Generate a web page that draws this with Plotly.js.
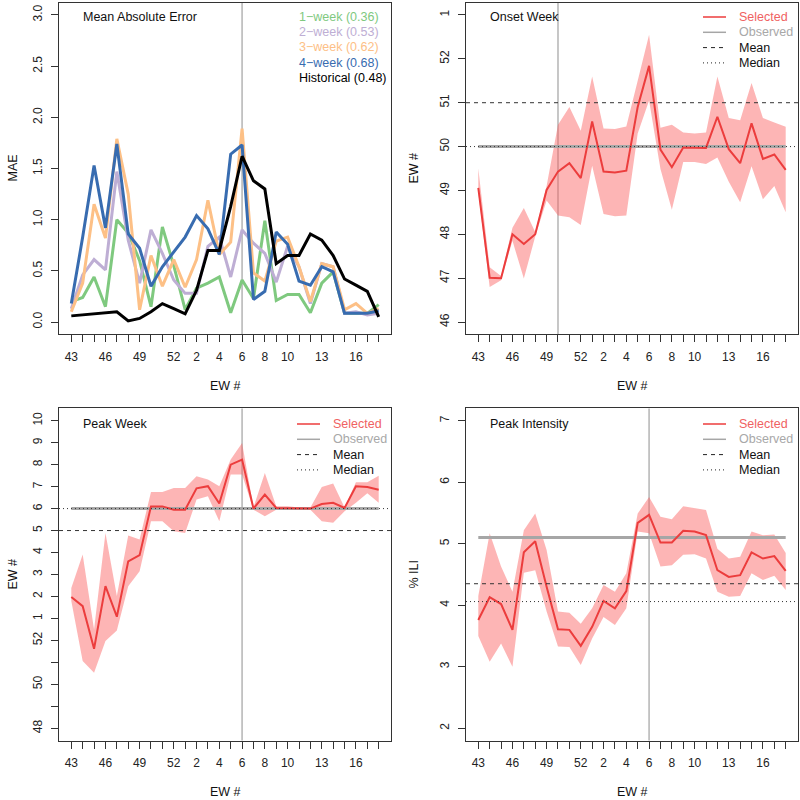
<!DOCTYPE html>
<html>
<head>
<meta charset="utf-8">
<script src="https://cdn.plot.ly/plotly-3.0.1.min.js"></script>
<style>
  html, body { margin: 0; padding: 0; background: #fff; }
  #chart { width: 800px; height: 800px; }
</style>
</head>
<body>
<div id="chart"></div>
<script>
// epidemic weeks of the season, 43..52 then 1..18
const weeks = [43, 44, 45, 46, 47, 48, 49, 50, 51, 52, 1, 2, 3, 4, 5, 6, 7, 8, 9, 10, 11, 12, 13, 14, 15, 16, 17, 18];
const shownWeeks = [43, 46, 49, 52, 2, 4, 6, 8, 10, 13, 16];

// mean absolute error per forecast week
const mae1wk = [0.20, 0.24, 0.44, 0.15, 1.00, 0.87, 0.60, 0.15, 0.93, 0.55, 0.12, 0.33, 0.38, 0.44, 0.09, 0.41, 0.23, 0.99, 0.21, 0.27, 0.27, 0.09, 0.38, 0.49, 0.085, 0.085, 0.085, 0.17];
const mae2wk = [0.13, 0.46, 0.61, 0.51, 1.47, 0.80, 0.38, 0.90, 0.67, 0.41, 0.28, 0.28, 0.74, 0.83, 0.44, 0.90, 0.77, 0.67, 0.39, 0.74, 0.54, 0.18, 0.57, 0.54, 0.085, 0.10, 0.07, 0.085];
const mae3wk = [0.10, 0.38, 1.15, 0.82, 1.79, 1.25, 0.12, 0.65, 0.35, 0.61, 0.34, 0.61, 1.19, 0.66, 0.78, 1.89, 0.48, 0.40, 0.79, 0.83, 0.54, 0.20, 0.57, 0.54, 0.12, 0.18, 0.085, 0.13];
const mae4wk = [0.18, 0.83, 1.53, 0.92, 1.74, 0.86, 0.72, 0.35, 0.54, 0.69, 0.83, 1.04, 0.91, 0.66, 1.64, 1.73, 0.22, 0.30, 0.88, 0.76, 0.40, 0.36, 0.54, 0.49, 0.085, 0.085, 0.085, 0.11];
const maeHist = [0.06, 0.07, 0.075, 0.085, 0.10, 0.01, 0.035, 0.10, 0.18, 0.13, 0.08, 0.31, 0.70, 0.70, 1.13, 1.62, 1.38, 1.30, 0.57, 0.65, 0.65, 0.86, 0.80, 0.65, 0.42, 0.36, 0.30, 0.05];
const maeNames = ['1\u2212week (0.36)', '2\u2212week (0.53)', '3\u2212week (0.62)', '4\u2212week (0.68)', 'Historical (0.48)'];
const maeColors = ['#7fc97f', '#beaed4', '#fdc086', '#386cb0', '#000000'];

// week values on a running scale: 53 = week 1, 54 = week 2 ...
const onsetSel = [49.06, 47.01, 47.0, 48.0, 47.78, 48.0, 49.01, 49.43, 49.62, 49.28, 50.57, 49.43, 49.41, 49.45, 50.9, 51.84, 49.93, 49.53, 49.98, 49.98, 49.97, 50.68, 49.94, 49.62, 50.53, 49.72, 49.82, 49.47];
const onsetHi = [49.5, 47.25, 47.05, 48.15, 48.6, 48.05, 49.1, 50.5, 50.9, 50.36, 51.6, 50.41, 50.4, 50.46, 51.5, 52.55, 50.43, 50.5, 50.32, 50.3, 50.32, 51.6, 50.65, 50.6, 51.45, 50.65, 50.55, 50.45];
const onsetLo = [48.95, 46.8, 46.95, 47.85, 46.99, 47.95, 48.77, 48.43, 48.39, 48.21, 49.56, 48.46, 48.41, 48.43, 50.3, 51.05, 49.49, 48.56, 49.65, 49.65, 49.6, 49.75, 49.2, 48.73, 49.55, 48.8, 49.1, 48.5];
const onsetObs = 50, onsetMean = 51, onsetMedian = 50;
const onsetTickVals = [46, 47, 48, 49, 50, 51, 52, 53];
const onsetTickText = ['46', '47', '48', '49', '50', '51', '52', '1'];

const peakWkSel = [53.98, 53.56, 51.62, 54.47, 53.08, 55.6, 55.88, 58.1, 58.1, 57.95, 57.95, 58.92, 59.02, 58.23, 60.0, 60.23, 58.0, 58.64, 58.03, 58.03, 58.0, 58.0, 58.21, 58.26, 58.03, 59.02, 58.98, 58.86];
const peakWkHi = [54.39, 55.91, 52.5, 56.89, 54.02, 56.77, 56.59, 58.76, 58.76, 58.94, 58.94, 59.47, 59.32, 59.02, 60.23, 60.98, 58.05, 59.62, 58.11, 58.11, 58.05, 58.05, 58.98, 59.14, 58.05, 59.2, 59.2, 59.5];
const peakWkLo = [53.79, 51.06, 50.53, 51.97, 52.45, 54.47, 55.15, 57.42, 57.42, 56.97, 56.89, 58.41, 58.56, 57.42, 59.55, 59.55, 57.95, 57.65, 57.95, 57.95, 57.95, 57.95, 57.42, 57.35, 57.88, 58.26, 58.7, 58.26];
const peakWkObs = 58, peakWkMean = 57, peakWkMedian = 58;
const peakWkTickVals = [48, 49, 50, 51, 52, 53, 54, 55, 56, 57, 58, 59, 60, 61, 62];
const peakWkTickText = ['48', '', '50', '', '52', '1', '2', '3', '4', '5', '6', '7', '8', '9', '10'];

const peakIntSel = [3.76, 4.13, 4.02, 3.60, 4.86, 5.04, 4.30, 3.61, 3.60, 3.34, 3.65, 4.07, 3.95, 4.23, 5.34, 5.47, 5.02, 5.02, 5.21, 5.20, 5.14, 4.57, 4.46, 4.49, 4.86, 4.76, 4.80, 4.56];
const peakIntHi = [4.15, 5.17, 4.63, 4.22, 5.22, 5.49, 4.9, 3.9, 3.88, 3.70, 3.95, 4.33, 4.22, 4.52, 5.49, 5.76, 5.44, 5.40, 5.61, 5.58, 5.55, 4.92, 4.76, 4.79, 5.2, 5.14, 5.15, 4.85];
const peakIntLo = [3.5, 3.08, 3.38, 3.0, 4.53, 4.57, 3.9, 3.33, 3.32, 3.03, 3.46, 3.81, 3.68, 3.95, 5.2, 5.17, 4.63, 4.65, 4.82, 4.83, 4.76, 4.22, 4.14, 4.15, 4.52, 4.41, 4.48, 4.25];
const peakIntObs = 5.10, peakIntMean = 4.35, peakIntMedian = 4.06;
const peakIntTickVals = [2, 3, 4, 5, 6, 7];

const obsOnsetWeek = 50, obsPeakWeek = 6;

const FONT = 'Liberation Sans, Arial, sans-serif';
const RED = '#ec3d3d';
const BAND = 'rgba(250,90,90,0.45)';
const GRAY = '#a6a6a6';

const idx = weeks.map((w, i) => i);
const xText = weeks.map(w => shownWeeks.includes(w) ? String(w) : '');

// panel frames in pixels (800x800 page)
const W = 800, H = 800;
const colL = [59, 391], colR = [466, 798];
const rowT = [2.7, 334.3], rowB = [408.4, 740.6];
const dx = p => [p[0] / W, p[1] / W];
const dy = p => [1 - p[1] / H, 1 - p[0] / H];

function xAxis(col, anchor) {
  return {
    domain: dx(col), anchor: anchor, range: [-1.08, 28.08],
    tickmode: 'array', tickvals: idx, ticktext: xText,
    ticks: 'outside', ticklen: 7, tickcolor: '#333', tickwidth: 1,
    showline: true, mirror: true, linecolor: '#333', linewidth: 1,
    showgrid: false, zeroline: false, ticklabelstandoff: 4,
    tickfont: { family: FONT, size: 12, color: '#222' }
  };
}
function yAxis(row, anchor, range, vals, text) {
  return {
    domain: dy(row), anchor: anchor, range: range,
    tickmode: 'array', tickvals: vals, ticktext: text,
    tickangle: -90, ticklabelstandoff: 4,
    ticks: 'outside', ticklen: 7, tickcolor: '#333', tickwidth: 1,
    showline: true, mirror: true, linecolor: '#333', linewidth: 1,
    showgrid: false, zeroline: false,
    tickfont: { family: FONT, size: 12, color: '#222' }
  };
}

const traces = [];

// MAE panel
[mae1wk, mae2wk, mae3wk, mae4wk, maeHist].forEach((ys, k) => {
  traces.push({ x: idx, y: ys, type: 'scatter', mode: 'lines', xaxis: 'x', yaxis: 'y',
    line: { color: maeColors[k], width: 3 }, hoverinfo: 'skip', showlegend: false });
});

function forecastPanel(sel, lo, hi, obs, xa, ya) {
  traces.push({ x: idx.concat(idx.slice().reverse()), y: hi.concat(lo.slice().reverse()),
    type: 'scatter', mode: 'lines', fill: 'toself', fillcolor: BAND, line: { width: 0 },
    xaxis: xa, yaxis: ya, hoverinfo: 'skip', showlegend: false });
  traces.push({ x: [idx[0], idx[idx.length - 1]], y: [obs, obs], type: 'scatter', mode: 'lines',
    line: { color: GRAY, width: 3 }, xaxis: xa, yaxis: ya, hoverinfo: 'skip', showlegend: false });
  traces.push({ x: idx, y: sel, type: 'scatter', mode: 'lines', line: { color: RED, width: 2 },
    xaxis: xa, yaxis: ya, hoverinfo: 'skip', showlegend: false });
}
forecastPanel(onsetSel, onsetLo, onsetHi, onsetObs, 'x2', 'y2');
forecastPanel(peakWkSel, peakWkLo, peakWkHi, peakWkObs, 'x3', 'y3');
forecastPanel(peakIntSel, peakIntLo, peakIntHi, peakIntObs, 'x4', 'y4');

const shapes = [];
function vline(week, xa, ya) {
  const i = weeks.indexOf(week);
  shapes.push({ type: 'line', layer: 'below', xref: xa, yref: ya + ' domain', x0: i, x1: i, y0: 0, y1: 1,
    line: { color: '#b4b4b4', width: 1.5 } });
}
function hline(v, dash, xa, ya) {
  shapes.push({ type: 'line', layer: 'above', xref: xa + ' domain', yref: ya, x0: 0, x1: 1, y0: v, y1: v,
    line: { color: '#333', width: 1, dash: dash } });
}
vline(obsPeakWeek, 'x', 'y');
vline(obsOnsetWeek, 'x2', 'y2');
vline(obsPeakWeek, 'x3', 'y3');
vline(obsPeakWeek, 'x4', 'y4');
hline(onsetMean, '4px,4px', 'x2', 'y2');
hline(onsetMedian, '1px,3px', 'x2', 'y2');
hline(peakWkMean, '4px,4px', 'x3', 'y3');
hline(peakWkMedian, '1px,3px', 'x3', 'y3');
hline(peakIntMean, '4px,4px', 'x4', 'y4');
hline(peakIntMedian, '1px,3px', 'x4', 'y4');

const annotations = [];
function txt(text, px, py, opts) {
  annotations.push(Object.assign({ text: text, xref: 'paper', yref: 'paper', x: px / W, y: 1 - py / H,
    xanchor: 'left', yanchor: 'middle', showarrow: false,
    font: { family: FONT, size: 12.5, color: '#111' } }, opts || {}));
}

// panel titles
txt('Mean Absolute Error', 81, 17);
txt('Onset Week', 488, 17);
txt('Peak Week', 81, 424);
txt('Peak Intensity', 488, 424);

// MAE legend
maeNames.forEach((n, k) => {
  txt(n, 297, 17 + k * 15.2, { font: { family: FONT, size: 12.5, color: maeColors[k] } });
});

// forecast legends
const legItems = [
  { name: 'Selected', color: '#f06262', line: { color: RED, width: 1.5 } },
  { name: 'Observed', color: '#a8a8a8', line: { color: GRAY, width: 1.5 } },
  { name: 'Mean', color: '#111', line: { color: '#222', width: 1, dash: '4px,4px' } },
  { name: 'Median', color: '#111', line: { color: '#222', width: 1, dash: '1px,3px' } }
];
function legend(x0, y0) {
  legItems.forEach((it, k) => {
    const y = y0 + k * 15.3;
    shapes.push({ type: 'line', xref: 'paper', yref: 'paper', x0: x0 / W, x1: (x0 + 23) / W,
      y0: 1 - y / H, y1: 1 - y / H, line: it.line });
    txt(it.name, x0 + 34, y, { font: { family: FONT, size: 12.5, color: it.color } });
  });
}
legend(703, 17);
legend(297, 424);
legend(703, 424);

// axis titles
function xTitle(col, py) { txt('EW #', (col[0] + col[1]) / 2, py, { xanchor: 'center' }); }
function yTitle(text, px, row) { txt(text, px, (row[0] + row[1]) / 2, { xanchor: 'center', textangle: -90 }); }
xTitle(colL, 386); xTitle(colR, 386); xTitle(colL, 792); xTitle(colR, 792);
yTitle('MAE', 12, rowT); yTitle('EW #', 413, rowT); yTitle('EW #', 12, rowB); yTitle('% ILI', 413, rowB);

const layout = {
  width: W, height: H, margin: { l: 0, r: 0, t: 0, b: 0 },
  paper_bgcolor: '#fff', plot_bgcolor: '#fff', showlegend: false,
  font: { family: FONT, size: 12, color: '#222' },
  xaxis: xAxis(colL, 'y'),
  yaxis: yAxis(rowT, 'x', [-0.12, 3.12], [0, 0.5, 1, 1.5, 2, 2.5, 3], ['0.0', '0.5', '1.0', '1.5', '2.0', '2.5', '3.0']),
  xaxis2: xAxis(colR, 'y2'),
  yaxis2: yAxis(rowT, 'x2', [45.72, 53.28], onsetTickVals, onsetTickText),
  xaxis3: xAxis(colL, 'y3'),
  yaxis3: yAxis(rowB, 'x3', [47.44, 62.56], peakWkTickVals, peakWkTickText),
  xaxis4: xAxis(colR, 'y4'),
  yaxis4: yAxis(rowB, 'x4', [1.8, 7.2], peakIntTickVals, peakIntTickVals.map(String)),
  shapes: shapes,
  annotations: annotations
};

Plotly.newPlot('chart', traces, layout, { displayModeBar: false, staticPlot: true });
</script>
</body>
</html>
